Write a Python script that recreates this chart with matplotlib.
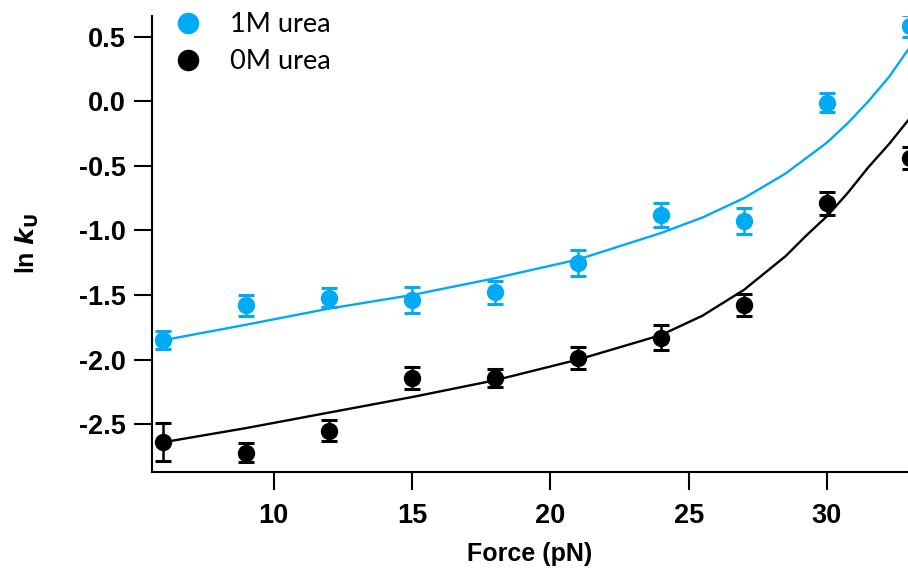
import numpy as np
import matplotlib.pyplot as plt
from matplotlib.lines import Line2D

# Forças medidas (pN)
force = [6, 9, 12, 15, 18, 21, 24, 27, 30, 33]

# ln kU com 1M de ureia e barras de erro
ln_k_1m = [-1.85, -1.58, -1.52, -1.54, -1.48, -1.25, -0.88, -0.93, -0.01, 0.58]
err_1m = [0.068, 0.083, 0.075, 0.10, 0.09, 0.10, 0.094, 0.10, 0.075, 0.084]

# ln kU sem ureia
ln_k_0m = [-2.64, -2.72, -2.55, -2.14, -2.14, -1.99, -1.83, -1.58, -0.79, -0.44]
err_0m = [0.147, 0.075, 0.08, 0.084, 0.071, 0.084, 0.097, 0.085, 0.09, 0.084]

# Curvas de ajuste
fit_force = [6, 9, 12, 15, 18, 21, 24, 25.5, 27, 28.5, 29.25, 30, 30.75, 31.5, 32.25, 33]
fit_1m = [-1.85, -1.73, -1.605, -1.50, -1.37, -1.225, -1.02, -0.90, -0.75, -0.56,
          -0.44, -0.32, -0.17, 0.00, 0.19, 0.42]
fit_0m = [-2.64, -2.53, -2.41, -2.29, -2.16, -2.00, -1.81, -1.66, -1.46, -1.20,
          -1.04, -0.89, -0.71, -0.51, -0.33, -0.13]

blue = '#00AAF5'
plt.rcParams['font.family'] = ['Liberation Sans', 'DejaVu Sans']

fig = plt.figure(figsize=(9.08, 5.71), dpi=100)
ax = fig.add_axes([152/908, 99/571, 1 - 152/908, (472 - 16)/571])

ax.plot(fit_force, fit_1m, color=blue, lw=1.7)
ax.plot(fit_force, fit_0m, color='black', lw=1.7)
ax.errorbar(force, ln_k_1m, yerr=err_1m, fmt='o', color=blue, ms=11.5,
            capsize=6, elinewidth=1.8, capthick=2.2)
ax.errorbar(force, ln_k_0m, yerr=err_0m, fmt='o', color='black', ms=11.5,
            capsize=6, elinewidth=1.8, capthick=2.2)

ax.set_xlim(5.6, 32.93)
ax.set_ylim(-2.87, 0.66)
ax.set_xticks([10, 15, 20, 25, 30])
ax.set_yticks([-2.5, -2.0, -1.5, -1.0, -0.5, 0.0, 0.5])
ax.set_yticklabels(['-2.5', '-2.0', '-1.5', '-1.0', '-0.5', '0.0', '0.5'])

for s in ['top', 'right']:
    ax.spines[s].set_visible(False)
for s in ['left', 'bottom']:
    ax.spines[s].set_linewidth(1.5)
ax.tick_params(direction='out', length=13, width=1.5, labelsize=19.5)
ax.tick_params(axis='x', pad=9)
ax.tick_params(axis='y', pad=6)
for lab in ax.get_xticklabels() + ax.get_yticklabels():
    lab.set_fontweight('bold')

ax.set_xlabel('Force (pN)', fontsize=18, fontweight='bold', labelpad=10)
ax.set_ylabel(r'ln $\mathbfit{k}_\mathbf{U}$', fontsize=18, fontweight='bold', labelpad=27)

handles = [Line2D([], [], marker='o', ls='none', color=blue, ms=14.5),
           Line2D([], [], marker='o', ls='none', color='black', ms=14.5)]
ax.legend(handles, ['1M urea', '0M urea'], loc='upper left',
          bbox_to_anchor=(-0.013, 1.05), frameon=False,
          handletextpad=0.55, labelspacing=0.45, borderaxespad=0.3,
          prop={'family': 'Lato', 'size': 19.5})

fig.savefig('out.png', dpi=100)
